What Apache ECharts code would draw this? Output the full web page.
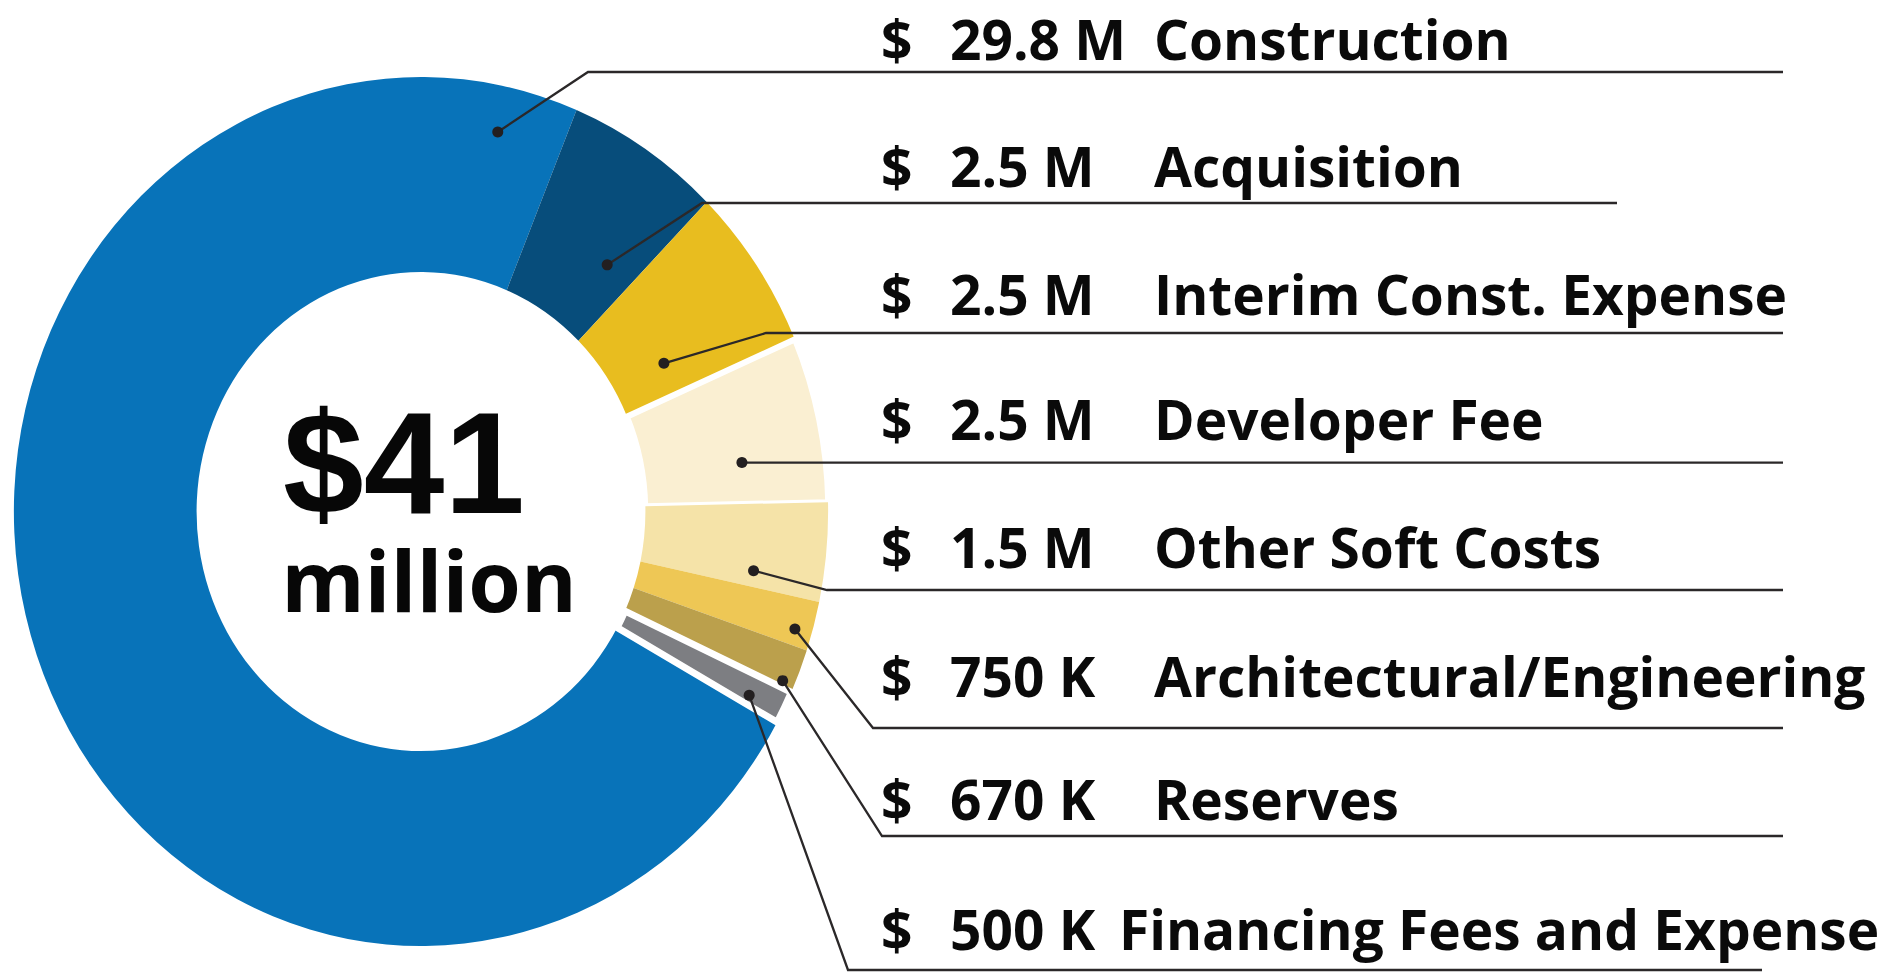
<!DOCTYPE html>
<html>
<head>
<meta charset="utf-8">
<script src="https://cdn.jsdelivr.net/npm/echarts@6/dist/echarts.min.js"></script>
<style>
html, body { margin: 0; padding: 0; background: #ffffff; overflow: hidden; }
#pie, #ann { position: absolute; left: 0; top: 0; height: 977px; }
</style>
</head>
<body>
<div id="pie"></div>
<div id="ann"></div>
<script>
// ---------------- data ----------------
const categories = ['Construction', 'Acquisition', 'Interim Const. Expense', 'Developer Fee',
  'Other Soft Costs', 'Architectural/Engineering', 'Reserves', 'Financing Fees and Expense'];
const values = [29.8, 2.5, 2.5, 2.5, 1.5, 0.75, 0.67, 0.5];          // $ millions
const amountLabels = ['29.8 M', '2.5 M', '2.5 M', '2.5 M', '1.5 M', '750 K', '670 K', '500 K'];
const centerLabels = ['$41', 'million'];

// ---------------- styles / layout ----------------
const colors = ['#0873B9', '#074D7B', '#E8BD1F', '#FAEFD2', '#F5E3A8', '#EEC755', '#BBA04C', '#7D7E82'];
const borders = [0, 0, 0, 6, 0, 0, 0, 7];
const W = 1882, H = 977;
const SX = 0.937;                       // horizontal squash of the donut (ellipse)
const CX = 421, CY = 511.5, R_IN = 239.5, R_OUT = 434.5;
const START_ANGLE = -29;
const dotT = [0.961, 0.742, 0.71, 0.688, 0.807, 0.66, 0.845, 0.7];   // position along slice
const dotR = [0.763, 0.396, 0.303, 0.546, 0.617, 0.905, 0.933, 0.80];// position across ring
const rowLineY = [72, 203, 333, 463, 590, 728, 836, 970];
const kneeX = [588, 702, 766, null, 827, 873, 882, 848];
const lineEndX = [1783, 1617, 1783, 1783, 1783, 1783, 1783, 1762];
const textBaseY = [59.5, 187, 315, 440, 568, 697, 820, 950];
const nameX = [1154, 1154, 1154, 1154, 1154, 1154, 1154, 1119];
const DOLLAR_X = 881, AMOUNT_X = 950;
const LABEL_FONT_SIZE = 55;
const BASE_K = 0.39;   // baseline offset from middle, fraction of font size

// ---------------- donut ----------------
const pieEl = document.getElementById('pie');
pieEl.style.width = (W / SX) + 'px';
pieEl.style.transformOrigin = '0 0';
pieEl.style.transform = 'scaleX(' + SX + ')';
const pie = echarts.init(pieEl, null, { renderer: 'svg' });
pie.setOption({
  animation: false,
  series: [{
    type: 'pie',
    silent: true,
    center: [CX / SX, CY],
    radius: [R_IN, R_OUT],
    startAngle: START_ANGLE,
    clockwise: true,
    label: { show: false },
    labelLine: { show: false },
    emphasis: { disabled: true },
    data: categories.map((n, i) => ({
      name: n,
      value: values[i],
      itemStyle: { color: colors[i], borderColor: '#ffffff', borderWidth: borders[i] }
    }))
  }]
});

function sliceLayouts() {
  try {
    const data = pie.getModel().getSeriesByIndex(0).getData();
    const ls = categories.map((_, i) => data.getItemLayout(i));
    if (ls.every(l => l && isFinite(l.startAngle))) return ls;
  } catch (e) {}
  const total = values.reduce((a, b) => a + b, 0);
  let a = -START_ANGLE * Math.PI / 180;
  return values.map(v => {
    const s = a; a += v / total * Math.PI * 2;
    return { startAngle: s, endAngle: a, cx: CX / SX, cy: CY, r0: R_IN, r: R_OUT };
  });
}

// ---------------- annotations ----------------
const layouts = sliceLayouts();
const els = [];
const lineColor = '#2b2829';
layouts.forEach((L, i) => {
  const a = L.startAngle + dotT[i] * (L.endAngle - L.startAngle);
  const rr = L.r0 + dotR[i] * (L.r - L.r0);
  const px = (L.cx + rr * Math.cos(a)) * SX;
  const py = L.cy + rr * Math.sin(a);
  const ly = kneeX[i] == null ? py : rowLineY[i];
  const kx = kneeX[i] == null ? px : kneeX[i];
  els.push({
    type: 'polyline', silent: true,
    shape: { points: [[px, py], [kx, ly], [lineEndX[i], ly]] },
    style: { stroke: lineColor, lineWidth: 2.3, fill: null }
  });
  els.push({
    type: 'circle', silent: true,
    shape: { cx: px, cy: py, r: 5.5 },
    style: { fill: '#231F20' }
  });
  const ty = textBaseY[i] - BASE_K * LABEL_FONT_SIZE;
  const font = 'bold ' + LABEL_FONT_SIZE + 'px "Open Sans"';
  const st = { font: font, fill: '#0a0a0a', align: 'left', verticalAlign: 'middle', lineHeight: 48 };
  els.push({ type: 'text', silent: true, x: DOLLAR_X, y: ty, style: Object.assign({ text: '$' }, st) });
  els.push({ type: 'text', silent: true, x: AMOUNT_X, y: ty, style: Object.assign({ text: amountLabels[i] }, st) });
  els.push({ type: 'text', silent: true, x: nameX[i], y: ty, style: Object.assign({ text: categories[i] }, st) });
});
// centre labels
els.push({ type: 'text', silent: true, x: 283, y: 511 - 0.33 * 145,
  style: { text: centerLabels[0], font: 'bold 145px "Liberation Sans"', fill: '#070707', align: 'left', verticalAlign: 'middle', lineHeight: 112 } });
els.push({ type: 'text', silent: true, x: 429, y: 612 - BASE_K * 85,
  style: { text: centerLabels[1], font: 'bold 85px "Open Sans"', fill: '#070707', align: 'center', verticalAlign: 'middle', lineHeight: 70 } });

const annEl = document.getElementById('ann');
annEl.style.width = W + 'px';
const ann = echarts.init(annEl, null, { renderer: 'svg' });
ann.setOption({ animation: false, graphic: { elements: els } });
</script>
</body>
</html>
